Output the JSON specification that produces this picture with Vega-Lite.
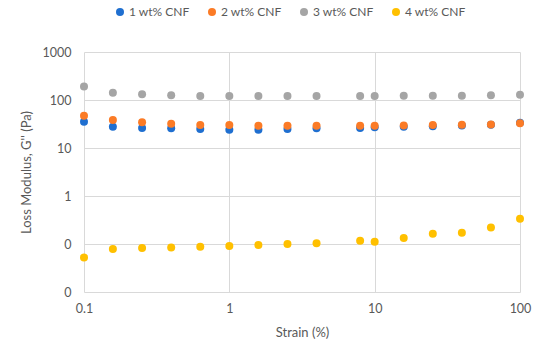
{
  "$schema": "https://vega.github.io/schema/vega-lite/v6.json",
  "autosize": "none",
  "width": 436,
  "height": 240,
  "padding": {"left": 84, "top": 52, "right": 30, "bottom": 69},
  "background": "white",
  "config": {
    "font": "Lato",
    "view": {"stroke": null},
    "axis": {
      "labelColor": "#595959",
      "titleColor": "#595959",
      "labelFontSize": 12.5,
      "titleFontSize": 13,
      "titleFontWeight": "normal",
      "labelFont": "Lato",
      "titleFont": "Lato",
      "gridColor": "#d9d9d9",
      "gridWidth": 1,
      "domain": false,
      "ticks": false,
      "labelFlush": false
    },
    "legend": {
      "labelColor": "#595959",
      "labelFontSize": 12,
      "labelFont": "Lato"
    }
  },
  "data": {
    "values": [
      {"strain": 0.1, "g": 35.3, "series": "1 wt% CNF"},
      {"strain": 0.158, "g": 27.8, "series": "1 wt% CNF"},
      {"strain": 0.251, "g": 26.1, "series": "1 wt% CNF"},
      {"strain": 0.398, "g": 25.7, "series": "1 wt% CNF"},
      {"strain": 0.631, "g": 24.9, "series": "1 wt% CNF"},
      {"strain": 1, "g": 24.0, "series": "1 wt% CNF"},
      {"strain": 1.585, "g": 24.0, "series": "1 wt% CNF"},
      {"strain": 2.512, "g": 24.9, "series": "1 wt% CNF"},
      {"strain": 3.981, "g": 25.7, "series": "1 wt% CNF"},
      {"strain": 7.943, "g": 26.1, "series": "1 wt% CNF"},
      {"strain": 10, "g": 26.9, "series": "1 wt% CNF"},
      {"strain": 15.85, "g": 27.8, "series": "1 wt% CNF"},
      {"strain": 25.12, "g": 28.5, "series": "1 wt% CNF"},
      {"strain": 39.81, "g": 29.5, "series": "1 wt% CNF"},
      {"strain": 63.1, "g": 30.5, "series": "1 wt% CNF"},
      {"strain": 100, "g": 33.5, "series": "1 wt% CNF"},
      {"strain": 0.1, "g": 47.0, "series": "2 wt% CNF"},
      {"strain": 0.158, "g": 38.3, "series": "2 wt% CNF"},
      {"strain": 0.251, "g": 34.2, "series": "2 wt% CNF"},
      {"strain": 0.398, "g": 32.0, "series": "2 wt% CNF"},
      {"strain": 0.631, "g": 30.1, "series": "2 wt% CNF"},
      {"strain": 1, "g": 30.0, "series": "2 wt% CNF"},
      {"strain": 1.585, "g": 29.2, "series": "2 wt% CNF"},
      {"strain": 2.512, "g": 29.0, "series": "2 wt% CNF"},
      {"strain": 3.981, "g": 29.0, "series": "2 wt% CNF"},
      {"strain": 7.943, "g": 29.0, "series": "2 wt% CNF"},
      {"strain": 10, "g": 29.0, "series": "2 wt% CNF"},
      {"strain": 15.85, "g": 29.6, "series": "2 wt% CNF"},
      {"strain": 25.12, "g": 30.0, "series": "2 wt% CNF"},
      {"strain": 39.81, "g": 30.6, "series": "2 wt% CNF"},
      {"strain": 63.1, "g": 31.0, "series": "2 wt% CNF"},
      {"strain": 100, "g": 32.6, "series": "2 wt% CNF"},
      {"strain": 0.1, "g": 192, "series": "3 wt% CNF"},
      {"strain": 0.158, "g": 142, "series": "3 wt% CNF"},
      {"strain": 0.251, "g": 131, "series": "3 wt% CNF"},
      {"strain": 0.398, "g": 125, "series": "3 wt% CNF"},
      {"strain": 0.631, "g": 121, "series": "3 wt% CNF"},
      {"strain": 1, "g": 121, "series": "3 wt% CNF"},
      {"strain": 1.585, "g": 121, "series": "3 wt% CNF"},
      {"strain": 2.512, "g": 121, "series": "3 wt% CNF"},
      {"strain": 3.981, "g": 121, "series": "3 wt% CNF"},
      {"strain": 7.943, "g": 121, "series": "3 wt% CNF"},
      {"strain": 10, "g": 121, "series": "3 wt% CNF"},
      {"strain": 15.85, "g": 123, "series": "3 wt% CNF"},
      {"strain": 25.12, "g": 123, "series": "3 wt% CNF"},
      {"strain": 39.81, "g": 123, "series": "3 wt% CNF"},
      {"strain": 63.1, "g": 125, "series": "3 wt% CNF"},
      {"strain": 100, "g": 129, "series": "3 wt% CNF"},
      {"strain": 0.1, "g": 0.0526, "series": "4 wt% CNF"},
      {"strain": 0.158, "g": 0.0787, "series": "4 wt% CNF"},
      {"strain": 0.251, "g": 0.0826, "series": "4 wt% CNF"},
      {"strain": 0.398, "g": 0.085, "series": "4 wt% CNF"},
      {"strain": 0.631, "g": 0.088, "series": "4 wt% CNF"},
      {"strain": 1, "g": 0.091, "series": "4 wt% CNF"},
      {"strain": 1.585, "g": 0.095, "series": "4 wt% CNF"},
      {"strain": 2.512, "g": 0.1, "series": "4 wt% CNF"},
      {"strain": 3.981, "g": 0.104, "series": "4 wt% CNF"},
      {"strain": 7.943, "g": 0.117, "series": "4 wt% CNF"},
      {"strain": 10, "g": 0.112, "series": "4 wt% CNF"},
      {"strain": 15.85, "g": 0.133, "series": "4 wt% CNF"},
      {"strain": 25.12, "g": 0.164, "series": "4 wt% CNF"},
      {"strain": 39.81, "g": 0.172, "series": "4 wt% CNF"},
      {"strain": 63.1, "g": 0.222, "series": "4 wt% CNF"},
      {"strain": 100, "g": 0.337, "series": "4 wt% CNF"}
    ]
  },
  "mark": {"type": "point", "shape": "circle", "filled": true, "opacity": 1, "size": 64},
  "encoding": {
    "x": {
      "field": "strain",
      "type": "quantitative",
      "scale": {"type": "log", "domain": [0.1, 100], "nice": false},
      "axis": {
        "values": [0.1, 1, 10, 100],
        "labelExpr": "datum.value < 1 ? '0.1' : format(datum.value, 'd')",
        "title": "Strain (%)",
        "labelPadding": 10,
        "titlePadding": 12
      }
    },
    "y": {
      "field": "g",
      "type": "quantitative",
      "scale": {"type": "log", "domain": [0.01, 1000], "nice": false},
      "axis": {
        "values": [0.01, 0.1, 1, 10, 100, 1000],
        "labelExpr": "datum.value < 1 ? '0' : format(datum.value, 'd')",
        "title": "Loss Modulus, G'' (Pa)",
        "labelPadding": 13,
        "titlePadding": 9
      }
    },
    "color": {
      "field": "series",
      "type": "nominal",
      "scale": {
        "domain": ["1 wt% CNF", "2 wt% CNF", "3 wt% CNF", "4 wt% CNF"],
        "range": ["#1f6fd0", "#fb7b26", "#a5a5a5", "#ffc000"]
      },
      "legend": {
        "title": null,
        "orient": "none",
        "direction": "horizontal",
        "legendX": 30,
        "legendY": -46,
        "symbolType": "circle",
        "symbolSize": 64,
        "labelOffset": 3,
        "columnPadding": 16
      }
    }
  }
}
